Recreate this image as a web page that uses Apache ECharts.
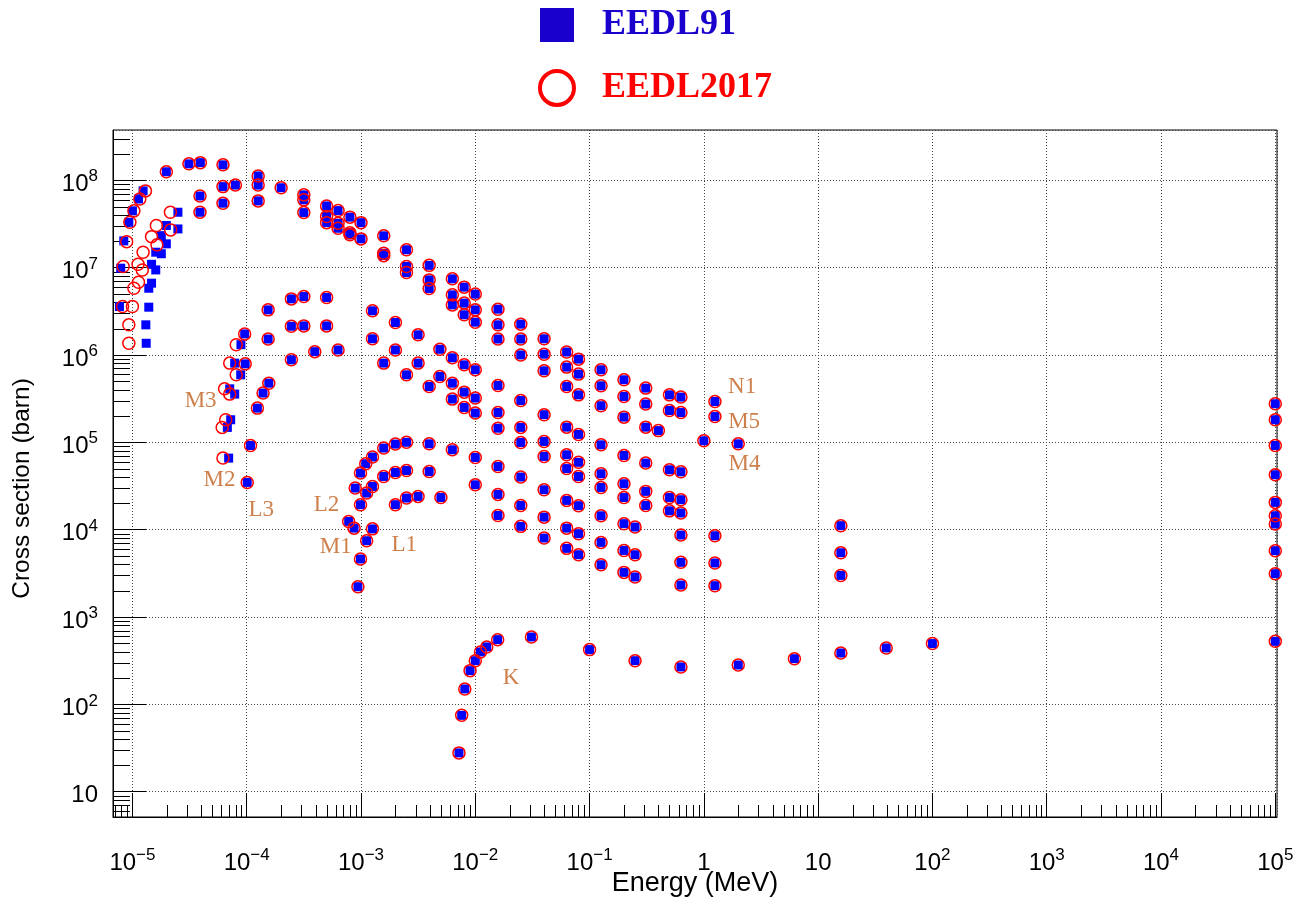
<!DOCTYPE html>
<html>
<head>
<meta charset="utf-8">
<title>EEDL91 vs EEDL2017</title>
<script src="https://cdn.jsdelivr.net/npm/echarts@6/dist/echarts.min.js"></script>
<style>
  html, body { margin: 0; padding: 0; background: #fff; }
  #chart { width: 1303px; height: 899px; }
</style>
</head>
<body>
<div id="chart"></div>
<script>
// ---- data: [energy (MeV), cross section (barn)] ----
// points where both libraries sit on top of each other
const sharedBelow1e4 = [
  [1.98e-5, 1.25e8], [3.12e-5, 1.54e8], [3.93e-5, 1.59e8], [3.9e-5, 6.6e7], [3.9e-5, 4.3e7],
  [6.2e-5, 1.5e8], [6.2e-5, 8.45e7], [6.2e-5, 5.46e7], [7.96e-5, 8.8e7],
  [9.6e-5, 1.74e6], [9.7e-5, 7.9e5]
];
const shared1e4to1e3 = [
  [1.26e-4, 1.12e8], [1.26e-4, 8.8e7], [1.26e-4, 5.8e7], [2.0e-4, 8.2e7],
  [3.16e-4, 6.8e7], [3.16e-4, 5.96e7], [3.16e-4, 4.26e7],
  [5.0e-4, 5.08e7], [5.0e-4, 3.84e7], [5.0e-4, 3.27e7],
  [6.3e-4, 4.49e7], [6.3e-4, 3.22e7], [6.3e-4, 2.82e7],
  [8.0e-4, 3.78e7], [8.0e-4, 2.51e7], [8.0e-4, 2.37e7],
  [1.54e-4, 3.28e6], [1.54e-4, 1.52e6], [2.46e-4, 4.38e6], [2.46e-4, 2.13e6], [2.46e-4, 8.79e5],
  [3.16e-4, 4.66e6], [3.16e-4, 2.15e6], [5.0e-4, 4.54e6], [5.0e-4, 2.15e6],
  [3.94e-4, 1.09e6], [6.3e-4, 1.14e6],
  [1.56e-4, 4.75e5], [1.39e-4, 3.66e5], [1.24e-4, 2.46e5], [1.08e-4, 9.19e4], [1.01e-4, 3.47e4],
  [7.8e-4, 1.24e4], [8.7e-4, 1.04e4], [8.9e-4, 2.99e4], [9.4e-4, 2.22e3],
  [9.9e-4, 4.44e4], [9.9e-4, 1.93e4], [9.9e-4, 4.61e3]
];
const shared1e3to1e2 = [
  [1.0e-3, 3.27e7], [1.0e-3, 2.13e7],
  [1.58e-3, 2.31e7], [1.58e-3, 1.46e7], [1.58e-3, 1.37e7],
  [2.5e-3, 1.6e7], [2.5e-3, 1.03e7], [2.5e-3, 8.77e6],
  [3.95e-3, 1.06e7], [3.95e-3, 7.23e6], [3.95e-3, 5.75e6],
  [6.3e-3, 7.43e6], [6.3e-3, 4.87e6], [6.3e-3, 3.74e6],
  [8.0e-3, 5.97e6], [8.0e-3, 3.92e6], [8.0e-3, 2.88e6],
  [1.26e-3, 3.2e6], [2.0e-3, 2.35e6], [1.26e-3, 1.53e6], [3.16e-3, 1.7e6], [2.0e-3, 1.14e6],
  [4.9e-3, 1.16e6], [6.3e-3, 9.27e5], [1.58e-3, 8.06e5], [3.16e-3, 8.06e5], [8.0e-3, 7.7e5],
  [2.5e-3, 5.92e5], [4.9e-3, 5.66e5], [3.95e-3, 4.35e5], [6.3e-3, 4.75e5], [8.0e-3, 3.75e5],
  [6.3e-3, 3.12e5], [8.0e-3, 2.5e5],
  [1.1e-3, 5.68e4], [1.26e-3, 6.78e4], [1.58e-3, 8.59e4], [2.0e-3, 9.53e4], [2.5e-3, 1.0e5],
  [3.95e-3, 9.6e4], [6.3e-3, 8.2e4],
  [1.12e-3, 2.62e4], [1.26e-3, 3.12e4], [1.58e-3, 4.06e4], [2.0e-3, 4.51e4], [2.5e-3, 4.75e4],
  [3.95e-3, 4.63e4],
  [2.0e-3, 1.93e4], [2.5e-3, 2.3e4], [3.16e-3, 2.4e4], [5.0e-3, 2.33e4],
  [1.26e-3, 1.02e4], [1.12e-3, 7.46e3]
];
const shared1e2to1e1 = [
  [1.0e-2, 4.97e6], [1.0e-2, 3.28e6], [1.0e-2, 2.37e6], [1.0e-2, 6.76e5], [1.0e-2, 3.21e5],
  [1.0e-2, 2.16e5], [1.0e-2, 6.7e4], [1.0e-2, 3.26e4],
  [1.58e-2, 3.34e6], [1.58e-2, 2.21e6], [1.58e-2, 1.52e6], [1.58e-2, 4.47e5], [1.58e-2, 2.19e5],
  [1.58e-2, 1.45e5], [1.58e-2, 5.28e4], [1.58e-2, 2.53e4], [1.58e-2, 1.45e4],
  [2.5e-2, 2.25e6], [2.5e-2, 1.52e6], [2.5e-2, 1.0e6], [2.5e-2, 3.01e5], [2.5e-2, 1.48e5],
  [2.5e-2, 9.95e4], [2.5e-2, 4.0e4], [2.5e-2, 1.89e4], [2.5e-2, 1.09e4],
  [4.0e-2, 1.53e6], [4.0e-2, 1.02e6], [4.0e-2, 6.58e5], [4.0e-2, 2.07e5], [4.0e-2, 1.02e5],
  [4.0e-2, 6.88e4], [4.0e-2, 2.86e4], [4.0e-2, 1.39e4], [4.0e-2, 8.01e3],
  [6.3e-2, 1.08e6], [6.3e-2, 7.25e5], [6.3e-2, 4.35e5], [6.3e-2, 1.49e5], [6.3e-2, 7.19e4],
  [6.3e-2, 5.0e4], [6.3e-2, 2.16e4], [6.3e-2, 1.04e4], [6.3e-2, 6.1e3],
  [8.0e-2, 8.95e5], [8.0e-2, 6.03e5], [8.0e-2, 3.49e5], [8.0e-2, 1.23e5], [8.0e-2, 5.9e4],
  [8.0e-2, 4.06e4], [8.0e-2, 1.88e4], [8.0e-2, 8.97e3], [8.0e-2, 5.16e3]
];
const shared1e1to1 = [
  [0.126, 6.76e5], [0.126, 4.43e5], [0.126, 2.62e5], [0.126, 9.35e4], [0.126, 4.36e4],
  [0.126, 3.04e4], [0.126, 1.44e4], [0.126, 7.14e3], [0.126, 3.96e3],
  [0.2, 5.19e5], [0.2, 3.34e5], [0.2, 1.94e5], [0.2, 7.06e4], [0.2, 3.35e4],
  [0.2, 2.33e4], [0.2, 1.17e4], [0.2, 5.78e3], [0.2, 3.24e3],
  [0.25, 1.07e4], [0.25, 5.16e3], [0.25, 2.87e3],
  [0.31, 4.17e5], [0.31, 2.74e5], [0.31, 1.49e5], [0.31, 5.78e4], [0.31, 2.74e4], [0.31, 1.89e4],
  [0.4, 1.36e5],
  [0.5, 3.49e5], [0.5, 2.31e5], [0.5, 4.84e4], [0.5, 2.33e4], [0.5, 1.64e4],
  [0.63, 3.29e5], [0.63, 2.19e5], [0.63, 4.59e4], [0.63, 2.2e4], [0.63, 1.55e4],
  [0.63, 8.67e3], [0.63, 4.22e3], [0.63, 2.32e3]
];
const sharedAbove1 = [
  [1.0, 1.04e5], [1.25, 2.93e5], [1.25, 1.97e5], [1.25, 8.51e3], [1.25, 4.15e3], [1.25, 2.28e3],
  [2.0, 9.6e4],
  [15.8, 1.11e4], [15.8, 5.44e3], [15.8, 2.99e3],
  [1e5, 2.76e5], [1e5, 1.81e5], [1e5, 9.19e4], [1e5, 4.25e4], [1e5, 2.05e4],
  [1e5, 1.44e4], [1e5, 1.16e4], [1e5, 5.74e3], [1e5, 3.13e3]
];
const kShell = [
  [7.2e-3, 27.8], [7.6e-3, 74.8], [8.1e-3, 150], [9.0e-3, 243], [1.0e-2, 316], [1.11e-2, 398],
  [1.26e-2, 454], [1.57e-2, 550], [3.1e-2, 590], [0.1, 423], [0.25, 316], [0.63, 268],
  [2.0, 282], [6.2, 333], [15.8, 387], [39.4, 442], [100, 496], [1e5, 526]
];
// near threshold the two evaluations part ways
const onlyEEDL91 = [
  [7.7e-6, 3.58e6], [7.9e-6, 9.84e6], [8.4e-6, 2.02e7], [9.3e-6, 3.3e7], [1.0e-5, 4.46e7],
  [1.13e-5, 6.1e7], [1.24e-5, 7.55e7], [1.31e-5, 2.21e6], [1.32e-5, 1.36e6],
  [1.39e-5, 3.52e6], [1.39e-5, 5.8e6], [1.47e-5, 6.63e6], [1.6e-5, 9.4e6], [1.47e-5, 1.09e7],
  [1.6e-5, 1.5e7], [1.79e-5, 1.44e7], [1.98e-5, 1.87e7], [1.79e-5, 2.32e7], [1.98e-5, 3.03e7],
  [2.5e-5, 2.77e7], [2.5e-5, 4.3e7],
  [8.9e-5, 1.31e6], [7.85e-5, 8.06e5], [8.86e-5, 5.92e5], [7.1e-5, 4.09e5], [7.85e-5, 3.56e5],
  [7.24e-5, 1.81e5], [6.77e-5, 1.48e5], [6.95e-5, 6.59e4]
];
const onlyEEDL2017 = [
  [8.2e-6, 3.58e6], [8.3e-6, 1.03e7], [8.9e-6, 1.98e7], [9.5e-6, 3.3e7], [1.03e-5, 4.46e7],
  [1.16e-5, 6.1e7], [1.3e-5, 7.55e7], [9.3e-6, 2.21e6], [9.3e-6, 1.36e6],
  [1.0e-5, 3.58e6], [1.03e-5, 5.8e6], [1.13e-5, 6.8e6], [1.22e-5, 9.4e6], [1.12e-5, 1.09e7],
  [1.24e-5, 1.5e7], [1.64e-5, 1.82e7], [1.47e-5, 2.26e7], [1.62e-5, 3.03e7],
  [2.16e-5, 2.7e7], [2.15e-5, 4.3e7],
  [8.1e-5, 1.31e6], [7.1e-5, 8.06e5], [8.1e-5, 5.92e5], [6.4e-5, 4.09e5], [7.1e-5, 3.56e5],
  [6.55e-5, 1.81e5], [6.1e-5, 1.48e5], [6.2e-5, 6.59e4]
];

const shellNames = ['M3', 'M2', 'L3', 'L2', 'M1', 'L1', 'K', 'N1', 'M5', 'M4'];
const shellNameAt = [
  [3.95e-5, 2.98e5], [5.77e-5, 3.72e4], [1.34e-4, 1.69e4], [4.99e-4, 1.93e4], [6.02e-4, 6.37e3],
  [2.39e-3, 6.71e3], [2.06e-2, 202], [2.16, 4.32e5], [2.25, 1.71e5], [2.27, 5.68e4]
];

const xTickExponents = [-5, -4, -3, -2, -1, 0, 1, 2, 3, 4, 5];
const yTickExponents = [1, 2, 3, 4, 5, 6, 7, 8];
const minorMantissas = [2, 3, 4, 5, 6, 7, 8, 9];

// axis ranges (log10)
const xLogRange = [-5.17, 5.015];
const yLogRange = [0.71, 8.575];
const xMin = Math.pow(10, xLogRange[0]), xMax = Math.pow(10, xLogRange[1]);
const yMin = Math.pow(10, yLogRange[0]), yMax = Math.pow(10, yLogRange[1]);

const SANS = 'Liberation Sans, Arial, sans-serif';
const SERIF = 'Liberation Serif, Times New Roman, serif';

const shared = [].concat(sharedBelow1e4, shared1e4to1e3, shared1e3to1e2, shared1e2to1e1, shared1e1to1, sharedAbove1, kShell);
const eedl91 = shared.concat(onlyEEDL91);
const eedl2017 = shared.concat(onlyEEDL2017);

// minor ticks at 2..9 x 10^k (ROOT style)
const minorTicks = [];
for (let k = -6; k <= 5; k++) {
  minorMantissas.forEach(m => {
    const v = m * Math.pow(10, k);
    if (v > xMin && v < xMax) minorTicks.push([v, yMin, 0]);
  });
}
for (let k = 0; k <= 8; k++) {
  minorMantissas.forEach(m => {
    const v = m * Math.pow(10, k);
    if (v > yMin && v < yMax) minorTicks.push([xMin, v, 1]);
  });
}

function powerLabel(e) {
  if (e === 0) return '{b|1}';
  if (e === 1) return '{b|10}';
  return '{b|10}{s|' + (e < 0 ? '\u2212' + (-e) : e) + '}';
}
const tickRich = {
  b: { fontFamily: SANS, fontSize: 24, color: '#000', lineHeight: 32 },
  s: { fontFamily: SANS, fontSize: 17, color: '#000', lineHeight: 17, verticalAlign: 'top' }
};

const chart = echarts.init(document.getElementById('chart'));

const option = {
  animation: false,
  backgroundColor: '#fff',
  grid: {
    left: 113, right: 26, top: 130, bottom: 82,
    show: true, borderColor: '#000', borderWidth: 1,
    outerBoundsMode: 'none'
  },
  legend: {
    orient: 'vertical',
    left: 533, top: 2,
    itemWidth: 34, itemHeight: 34, itemGap: 26,
    selectedMode: false,
    textStyle: { fontFamily: SERIF, fontWeight: 'bold', fontSize: 36, padding: [0, 0, 0, 23] },
    data: [
      { name: 'EEDL91', icon: 'rect', itemStyle: { color: '#1a00cc', borderWidth: 0, opacity: 1 }, textStyle: { color: '#1a00cc' } },
      { name: 'EEDL2017', icon: 'circle', itemStyle: { color: 'rgba(0,0,0,0)', borderColor: '#ff0000', borderWidth: 4, opacity: 1 }, textStyle: { color: '#ff0000' } }
    ]
  },
  xAxis: [
    { type: 'log', min: xMin, max: xMax, show: false },
    {
      type: 'value', position: 'bottom',
      min: xLogRange[0], max: xLogRange[1], splitNumber: 10,
      name: 'Energy (MeV)', nameLocation: 'middle', nameGap: 53, nameMoveOverlap: false,
      nameTextStyle: { fontFamily: SANS, fontSize: 27, color: '#000' },
      axisLine: { show: true, onZero: false, lineStyle: { color: '#000', width: 1 } },
      axisTick: { show: true, inside: true, length: 24, lineStyle: { color: '#000' } },
      splitLine: { show: true, lineStyle: { color: '#444', type: [1, 2], width: 1 } },
      axisLabel: {
        margin: 30, showMinLabel: false, showMaxLabel: false,
        formatter: v => {
          const e = Math.round(v);
          if (Math.abs(v - e) > 1e-6 || xTickExponents.indexOf(e) < 0) return '';
          return powerLabel(e);
        },
        rich: tickRich
      }
    }
  ],
  yAxis: {
    type: 'log', min: yMin, max: yMax, logBase: 10,
    name: 'Cross section (barn)', nameLocation: 'middle', nameGap: 78, nameMoveOverlap: false,
    nameTextStyle: { fontFamily: SANS, fontSize: 24.5, color: '#000', padding: [0, 30, 0, 0] },
    axisLine: { show: true, onZero: false, lineStyle: { color: '#000', width: 1 } },
    axisTick: { show: true, inside: true, length: 33, lineStyle: { color: '#000' } },
    splitLine: { show: true, lineStyle: { color: '#444', type: [1, 2], width: 1 } },
    axisLabel: {
      margin: 15, padding: [8, 0, 0, 0], showMinLabel: false, showMaxLabel: false,
      formatter: v => {
        const l = Math.log10(v), e = Math.round(l);
        if (Math.abs(l - e) > 1e-6 || yTickExponents.indexOf(e) < 0) return '';
        return powerLabel(e);
      },
      rich: tickRich
    }
  },
  series: [
    {
      name: 'EEDL91', type: 'scatter', xAxisIndex: 0, yAxisIndex: 0,
      symbol: 'rect', symbolSize: 9, clip: false, silent: true, z: 3,
      itemStyle: { color: '#0000ff', opacity: 1 },
      emphasis: { disabled: true },
      data: eedl91
    },
    {
      name: 'EEDL2017', type: 'scatter', xAxisIndex: 0, yAxisIndex: 0,
      symbol: 'circle', symbolSize: 12, clip: false, silent: true, z: 4,
      itemStyle: { color: 'rgba(0,0,0,0)', borderColor: '#ff0000', borderWidth: 1.5, opacity: 1 },
      emphasis: { disabled: true },
      data: eedl2017
    },
    {
      name: 'minor ticks', type: 'custom', xAxisIndex: 0, yAxisIndex: 0,
      silent: true, z: 2,
      renderItem: (params, api) => {
        const cs = params.coordSys;
        const p = api.coord([api.value(0), api.value(1)]);
        if (api.value(2) === 0) {
          const x = Math.round(p[0]) + 0.5, yb = cs.y + cs.height;
          return { type: 'line', shape: { x1: x, y1: yb, x2: x, y2: yb - 12 }, style: { stroke: '#000', lineWidth: 1 } };
        }
        const y = Math.round(p[1]) + 0.5;
        return { type: 'line', shape: { x1: cs.x, y1: y, x2: cs.x + 17, y2: y }, style: { stroke: '#000', lineWidth: 1 } };
      },
      data: minorTicks
    },
    {
      name: 'shell names', type: 'scatter', xAxisIndex: 0, yAxisIndex: 0,
      symbolSize: 1, silent: true, z: 5, clip: false,
      itemStyle: { color: 'rgba(0,0,0,0)' },
      emphasis: { disabled: true },
      label: {
        show: true, position: 'inside', formatter: '{b}',
        fontFamily: SERIF, fontSize: 23, color: '#c0601e'
      },
      data: shellNames.map((n, i) => ({ name: n, value: shellNameAt[i] }))
    }
  ]
};

chart.setOption(option);
</script>
</body>
</html>
